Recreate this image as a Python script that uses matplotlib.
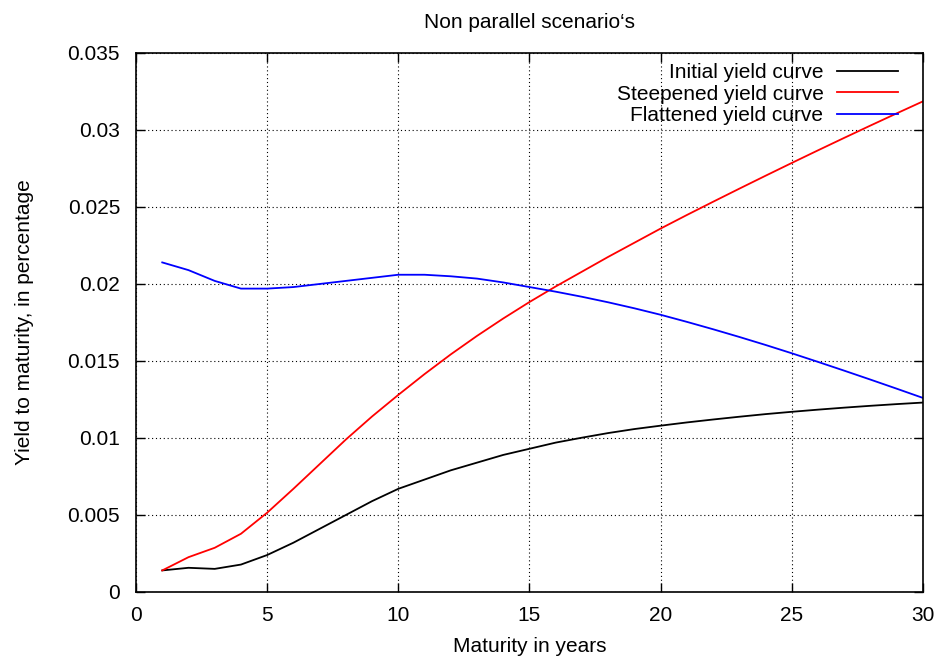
import numpy as np
import matplotlib
matplotlib.use("Agg")
import matplotlib.pyplot as plt

plt.rcParams['font.family'] = ['Liberation Sans', 'DejaVu Sans']

# maturities in years
maturity = list(range(1, 31))

initial = [0.0014, 0.00157, 0.0015, 0.00178, 0.0024, 0.0032, 0.0041, 0.0050, 0.0059, 0.0067,
           0.0073, 0.0079, 0.0084, 0.0089, 0.0093, 0.0097, 0.01002, 0.01032, 0.01058, 0.0108,
           0.01101, 0.0112, 0.01138, 0.01155, 0.0117, 0.01184, 0.01197, 0.01209, 0.0122, 0.0123]

steepened = [0.0014, 0.00226, 0.00287, 0.00378, 0.00515, 0.0067, 0.0083, 0.0099, 0.0114, 0.0128,
             0.01415, 0.01543, 0.01663, 0.01776, 0.01883, 0.01984, 0.0208, 0.02176, 0.02268, 0.0236,
             0.02448, 0.02534, 0.02619, 0.02703, 0.02786, 0.02868, 0.02949, 0.03029, 0.03108, 0.03186]

flattened = [0.0214, 0.0209, 0.0202, 0.0197, 0.0197, 0.0198, 0.0200, 0.0202, 0.0204, 0.0206,
             0.0206, 0.0205, 0.02035, 0.0201, 0.0198, 0.0195, 0.01917, 0.01881, 0.01842, 0.0180,
             0.01754, 0.01706, 0.01656, 0.01604, 0.0155, 0.01494, 0.01437, 0.01379, 0.0132, 0.0126]

fig = plt.figure(figsize=(9.42, 6.59), dpi=100)
ax = fig.add_axes([0.1444, 0.1017, 0.8354, 0.8179])

ax.plot(maturity, initial, color='black', lw=1.3, label='Initial yield curve')
ax.plot(maturity, steepened, color='red', lw=1.3, label='Steepened yield curve')
ax.plot(maturity, flattened, color='blue', lw=1.3, label='Flattened yield curve')

ax.set_xlim(0, 30)
ax.set_ylim(0, 0.035)
ax.set_xticks(np.arange(0, 31, 5))
ax.set_yticks(np.arange(0, 0.0351, 0.005))
ax.set_yticklabels(['0', '0.005', '0.01', '0.015', '0.02', '0.025', '0.03', '0.035'])
ax.grid(True, linestyle=(0, (1, 2.5)), color='black', lw=0.8)
ax.tick_params(direction='in', length=6.5, width=1, top=True, right=True,
               labelsize=15)
ax.tick_params(axis='y', pad=11.5)
ax.tick_params(axis='x', pad=10)
for s in ax.spines.values():
    s.set_linewidth(1.2)

ax.set_title('Non parallel scenario\u2018s', fontsize=15, pad=18)
ax.set_xlabel('Maturity in years', fontsize=15, labelpad=9)
ax.set_ylabel('Yield to maturity, in percentage', fontsize=15, labelpad=24)

ax.legend(loc='upper right', bbox_to_anchor=(0.968, 0.981), frameon=False,
          markerfirst=False, fontsize=15, handlelength=2.9, labelspacing=0.12,
          borderaxespad=0, borderpad=0, handletextpad=0.67)

fig.savefig('out.png', dpi=100)
